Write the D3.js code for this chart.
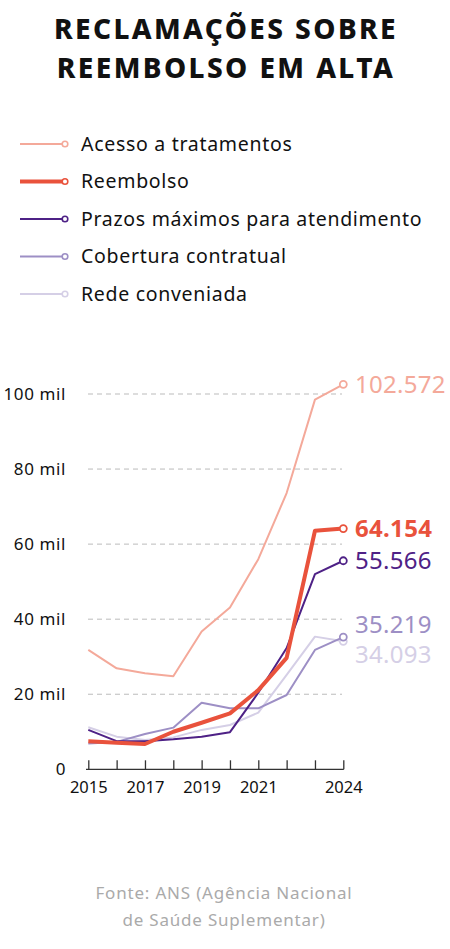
<!DOCTYPE html>
<html>
<head>
<meta charset="utf-8">
<script src="https://cdn.jsdelivr.net/npm/d3@7"></script>
<style>
  body { margin: 0; background: #fff; }
  text { font-family: "Noto Sans", sans-serif; }
</style>
</head>
<body>
<div class="chart"></div>
<script>
// Data
const years = [2015, 2016, 2017, 2018, 2019, 2020, 2021, 2022, 2023, 2024];
const acesso = [31800, 26900, 25600, 24800, 36700, 43100, 56000, 73600, 98500, 102572];
const reembolso = [7500, 7100, 6750, 10000, 12400, 14900, 21100, 29700, 63550, 64154];
const prazos = [10500, 7500, 7500, 8000, 8700, 9900, 20400, 32300, 52000, 55566];
const cobertura = [6900, 7300, 9400, 11100, 17750, 16250, 16250, 19800, 31800, 35219];
const rede = [11200, 8700, 7800, 8500, 10500, 11800, 15100, 25150, 35350, 34093];
const seriesNames = ['Acesso a tratamentos', 'Reembolso', 'Prazos máximos para atendimento', 'Cobertura contratual', 'Rede conveniada'];
const yTicks = [0, 20000, 40000, 60000, 80000, 100000];
const yTickLabels = ['0', '20 mil', '40 mil', '60 mil', '80 mil', '100 mil'];
const xTickLabels = [2015, 2017, 2019, 2021, 2024];

const series = [
    { name: seriesNames[0], values: acesso, color: '#f4a99a', width: 2, bold: false },
    { name: seriesNames[1], values: reembolso, color: '#e9523c', width: 4, bold: true },
    { name: seriesNames[2], values: prazos, color: '#4e2186', width: 2, bold: false },
    { name: seriesNames[3], values: cobertura, color: '#9d8fc5', width: 2, bold: false },
    { name: seriesNames[4], values: rede, color: '#d5cfe6', width: 2, bold: false }
];

const fmt = v => d3.format(',')(v).replace(/,/g, '.');

// Dimensions
const dimensions = { width: 450, height: 949 };

const svg = d3.select('.chart')
    .append('svg')
    .attr('width', dimensions.width)
    .attr('height', dimensions.height);

// Title
svg.append('g')
    .selectAll('text')
    .data(['RECLAMAÇÕES SOBRE', 'REEMBOLSO EM ALTA'])
    .join('text')
    .attr('text-anchor', 'middle')
    .attr('font-size', 28)
    .attr('font-weight', 800)
    .attr('letter-spacing', 2.4)
    .attr('fill', '#111')
    .attr('x', 226)
    .attr('y', (d, i) => 39 + i * 39)
    .text(d => d);

// Legend
const legend = svg.append('g');
const legendRows = legend.selectAll('g')
    .data(series)
    .join('g')
    .attr('transform', (d, i) => `translate(0, ${144 + i * 37.5})`);
legendRows.append('line')
    .attr('x1', 20).attr('x2', 63)
    .attr('stroke', d => d.color)
    .attr('stroke-width', d => d.width);
legendRows.append('circle')
    .attr('cx', 65).attr('r', 2.8)
    .attr('fill', '#fff')
    .attr('stroke', d => d.color)
    .attr('stroke-width', 1.6);
legendRows.append('text')
    .attr('x', 81)
    .attr('dy', '0.35em')
    .attr('font-size', 19.5)
    .attr('letter-spacing', 0.7)
    .attr('fill', '#111')
    .text(d => d.name);

// Scales
const xScale = d3.scaleLinear()
    .domain(d3.extent(years))
    .range([88.3, 343.3]);
const yScale = d3.scaleLinear()
    .domain([0, 100000])
    .range([769.3, 394]);

// Grid
svg.append('g')
    .selectAll('line')
    .data(yTicks.filter(d => d > 0))
    .join('line')
    .attr('x1', 88).attr('x2', 342)
    .attr('y1', d => yScale(d)).attr('y2', d => yScale(d))
    .attr('stroke', '#bbb')
    .attr('stroke-dasharray', '5,4');

// Y labels
svg.append('g')
    .selectAll('text')
    .data(yTicks)
    .join('text')
    .attr('x', 66)
    .attr('y', d => yScale(d))
    .attr('dy', '0.35em')
    .attr('text-anchor', 'end')
    .attr('font-size', 17)
    .attr('letter-spacing', 0.6)
    .attr('fill', '#111')
    .text((d, i) => yTickLabels[i]);

// X axis
const xAxis = d3.axisBottom(xScale)
    .tickValues(years)
    .tickSize(-9)
    .tickSizeOuter(0)
    .tickFormat(d => xTickLabels.includes(d) ? d : '');
const xAxisGroup = svg.append('g')
    .attr('transform', `translate(0, ${yScale(0)})`)
    .call(xAxis);
xAxisGroup.select('.domain').attr('stroke', '#333').attr('stroke-width', 1.3)
    .attr('d', `M86,0H${xScale(2024) + 0.5}`);
xAxisGroup.selectAll('.tick line').attr('stroke', '#333').attr('stroke-width', 1.3);
xAxisGroup.selectAll('.tick text')
    .attr('y', 12)
    .attr('font-size', 16.5)
    .attr('font-family', '"Noto Sans", sans-serif')
    .attr('fill', '#111');

// Lines (draw light first, so thick red is on top)
const line = d3.line()
    .x((d, i) => xScale(years[i]))
    .y(d => yScale(d));
const drawOrder = [4, 3, 0, 2, 1];
const lines = svg.append('g');
drawOrder.forEach(k => {
    const s = series[k];
    lines.append('path')
        .attr('d', line(s.values))
        .attr('fill', 'none')
        .attr('stroke', s.color)
        .attr('stroke-width', s.width)
        .attr('stroke-linejoin', 'round');
    lines.append('circle')
        .attr('cx', xScale(years[years.length - 1]))
        .attr('cy', yScale(s.values[s.values.length - 1]))
        .attr('r', 3.5)
        .attr('fill', '#fff')
        .attr('stroke', s.color)
        .attr('stroke-width', 1.8);
});

// End labels with simple dodge
const endLabels = series.map(s => ({ s, v: s.values[s.values.length - 1], y: yScale(s.values[s.values.length - 1]) }))
    .sort((a, b) => a.y - b.y);
const gap = 30;
for (let pass = 0; pass < 10; pass++) {
    for (let i = 1; i < endLabels.length; i++) {
        const overlap = endLabels[i - 1].y + gap - endLabels[i].y;
        if (overlap > 0) {
            endLabels[i - 1].y -= overlap / 2;
            endLabels[i].y += overlap / 2;
        }
    }
}
svg.append('g')
    .selectAll('text')
    .data(endLabels)
    .join('text')
    .attr('x', 355)
    .attr('y', d => d.y)
    .attr('dy', '0.35em')
    .attr('font-size', 24)
    .attr('letter-spacing', 0.3)
    .attr('font-weight', d => d.s.bold ? 700 : 400)
    .attr('fill', d => d.s.color)
    .text(d => fmt(d.v));

// Source
svg.append('text')
    .attr('text-anchor', 'middle')
    .attr('font-size', 17)
    .attr('letter-spacing', 0.8)
    .attr('fill', '#aaa')
    .selectAll('tspan')
    .data(['Fonte: ANS (Agência Nacional', 'de Saúde Suplementar)'])
    .join('tspan')
    .attr('x', 224)
    .attr('y', (d, i) => 899 + i * 27)
    .text(d => d);
</script>
</body>
</html>
